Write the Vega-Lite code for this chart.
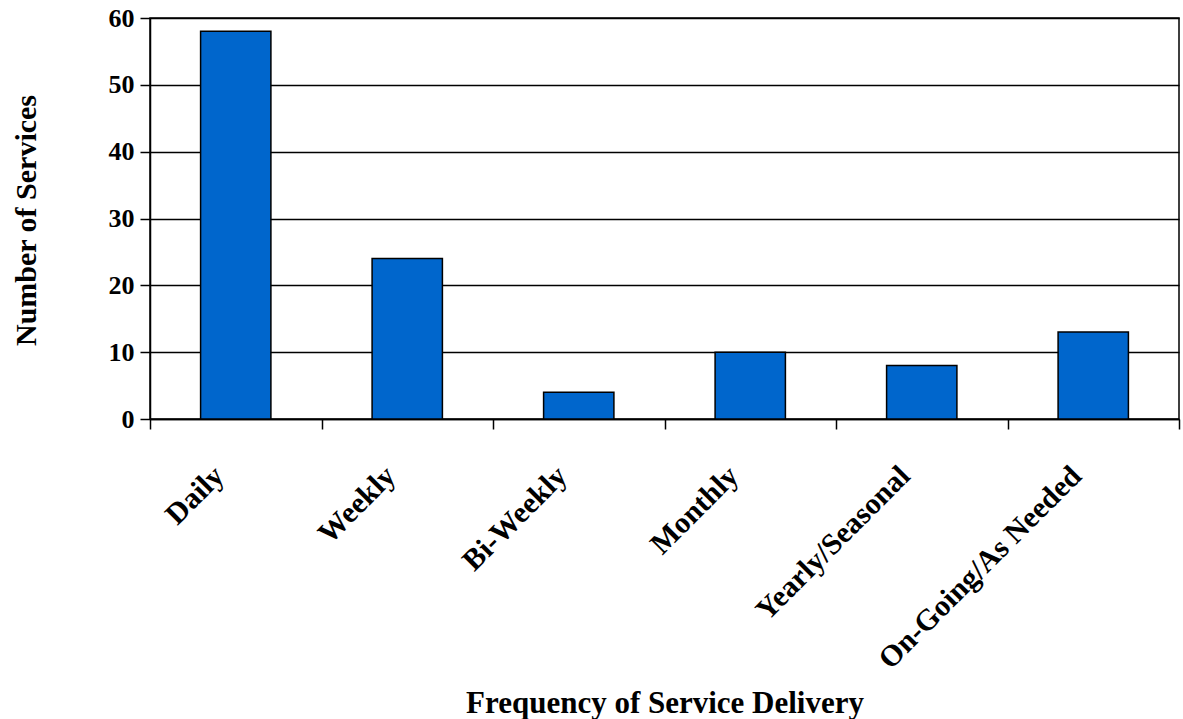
{
  "$schema": "https://vega.github.io/schema/vega-lite/v6.json",
  "autosize": "none",
  "width": 1029,
  "height": 401,
  "padding": {"left": 150, "top": 18, "right": 4, "bottom": 300},
  "background": "white",
  "config": {
    "view": {"stroke": "black", "strokeWidth": 1.5},
    "font": "Liberation Serif"
  },
  "data": {
    "values": [
      {"freq": "Daily", "n": 58},
      {"freq": "Weekly", "n": 24},
      {"freq": "Bi-Weekly", "n": 4},
      {"freq": "Monthly", "n": 10},
      {"freq": "Yearly/Seasonal", "n": 8},
      {"freq": "On-Going/As Needed", "n": 13}
    ]
  },
  "mark": {"type": "bar", "color": "#0066CC", "stroke": "black", "strokeWidth": 1.5, "width": {"band": 0.41}},
  "encoding": {
    "x": {
      "field": "freq", "type": "nominal", "sort": null,
      "scale": {"paddingInner": 0, "paddingOuter": 0},
      "axis": {
        "title": "Frequency of Service Delivery",
        "titleFont": "Liberation Serif", "titleFontSize": 31, "titleFontWeight": "bold", "titleColor": "black",
        "titleY": 269, "titleBaseline": "top",
        "labelAngle": -45, "labelAlign": "right", "labelBaseline": "middle",
        "labelFont": "Liberation Serif", "labelFontSize": 30, "labelFontWeight": "bold", "labelColor": "black",
        "labelPadding": 42, "labelLimit": 0, "labelOffset": -17,
        "tickBand": "extent",
        "tickSize": 10, "tickColor": "black", "tickWidth": 1.5,
        "domainColor": "black", "domainWidth": 1.5, "grid": false
      }
    },
    "y": {
      "field": "n", "type": "quantitative",
      "scale": {"domain": [0, 60], "nice": false},
      "axis": {
        "title": "Number of Services",
        "titleFont": "Liberation Serif", "titleFontSize": 30, "titleFontWeight": "bold", "titleColor": "black",
        "titleX": -124, "titleY": 202, "titleAlign": "center", "titleBaseline": "middle", "titleAngle": -90,
        "values": [0, 10, 20, 30, 40, 50, 60],
        "labelFont": "Liberation Serif", "labelFontSize": 26, "labelFontWeight": "bold", "labelColor": "black",
        "labelPadding": 6,
        "tickSize": 10, "tickColor": "black", "tickWidth": 1.5,
        "domainColor": "black", "domainWidth": 1.5,
        "grid": true, "gridColor": "black", "gridWidth": 1.5, "gridOpacity": 1
      }
    }
  }
}
